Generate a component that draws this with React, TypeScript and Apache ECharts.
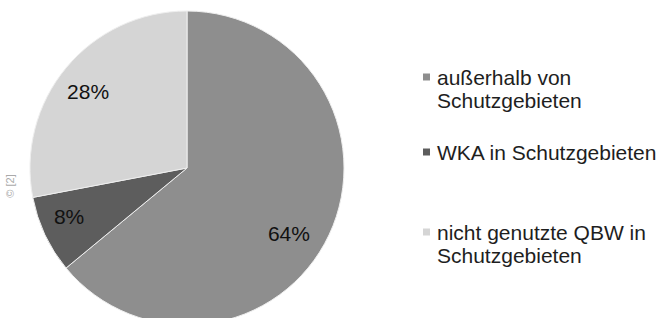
import React, { useEffect, useRef } from "react";
import * as echarts from "echarts";

const categories = ["außerhalb von\nSchutzgebieten", "WKA in Schutzgebieten", "nicht genutzte QBW in\nSchutzgebieten"];
const values = [64, 8, 28];
const colors = ["#8e8e8e", "#5d5d5d", "#d5d5d5"];
const legendY = [77, 152, 232];
const labelOffsets = [[-13, 11], [-3, -6], [-1, 4]];

export default function App() {
  const ref = useRef<HTMLDivElement>(null);
  useEffect(() => {
    document.body.style.margin = "0";
    const chart = echarts.init(ref.current!, null, { renderer: "svg" });
    const data = categories.map((name, i) => ({ name, value: values[i], itemStyle: { color: colors[i] } }));
    const cx = 187, cy = 168, r = 157;
    const lh = 23;
    const graphic: any[] = [];
    categories.forEach((name, i) => {
      graphic.push({ type: "rect", shape: { x: 423, y: legendY[i] - 3.5, width: 7, height: 7 }, style: { fill: colors[i] } });
      graphic.push({
        type: "text", x: 437, y: legendY[i] - lh / 2,
        style: { text: name, fill: "#1e1e1e", font: "21px 'Liberation Sans', Arial, sans-serif", lineHeight: lh, verticalAlign: "top" },
      });
    });
    graphic.push({
      type: "text", x: 10, y: 186, rotation: Math.PI / 2,
      style: { text: "© [2]", fill: "#aaa", font: "11px 'Liberation Sans', Arial, sans-serif", align: "center", verticalAlign: "middle" },
    });
    chart.setOption({
      animation: false,
      backgroundColor: "#fff",
      graphic,
      series: [
        {
          type: "pie", center: [cx, cy], radius: [0, r], startAngle: 90, clockwise: true,
          data, label: { show: false }, labelLine: { show: false },
          itemStyle: { borderColor: "#eeeeee", borderWidth: 1 }, silent: true,
        },
        {
          type: "pie", center: [cx, cy], radius: [r * 0.58, r], startAngle: 90, clockwise: true,
          data: categories.map((name, i) => ({ name, value: values[i], label: { offset: labelOffsets[i] } })),
          itemStyle: { color: "rgba(0,0,0,0)" }, silent: true,
          label: { show: true, position: "inside", formatter: "{c}%", color: "#111", fontSize: 21, fontFamily: "'Liberation Sans', Arial, sans-serif" },
          labelLine: { show: false },
        },
      ],
    });
    return () => chart.dispose();
  }, []);
  return <div ref={ref} style={{ width: 660, height: 318 }} />;
}
